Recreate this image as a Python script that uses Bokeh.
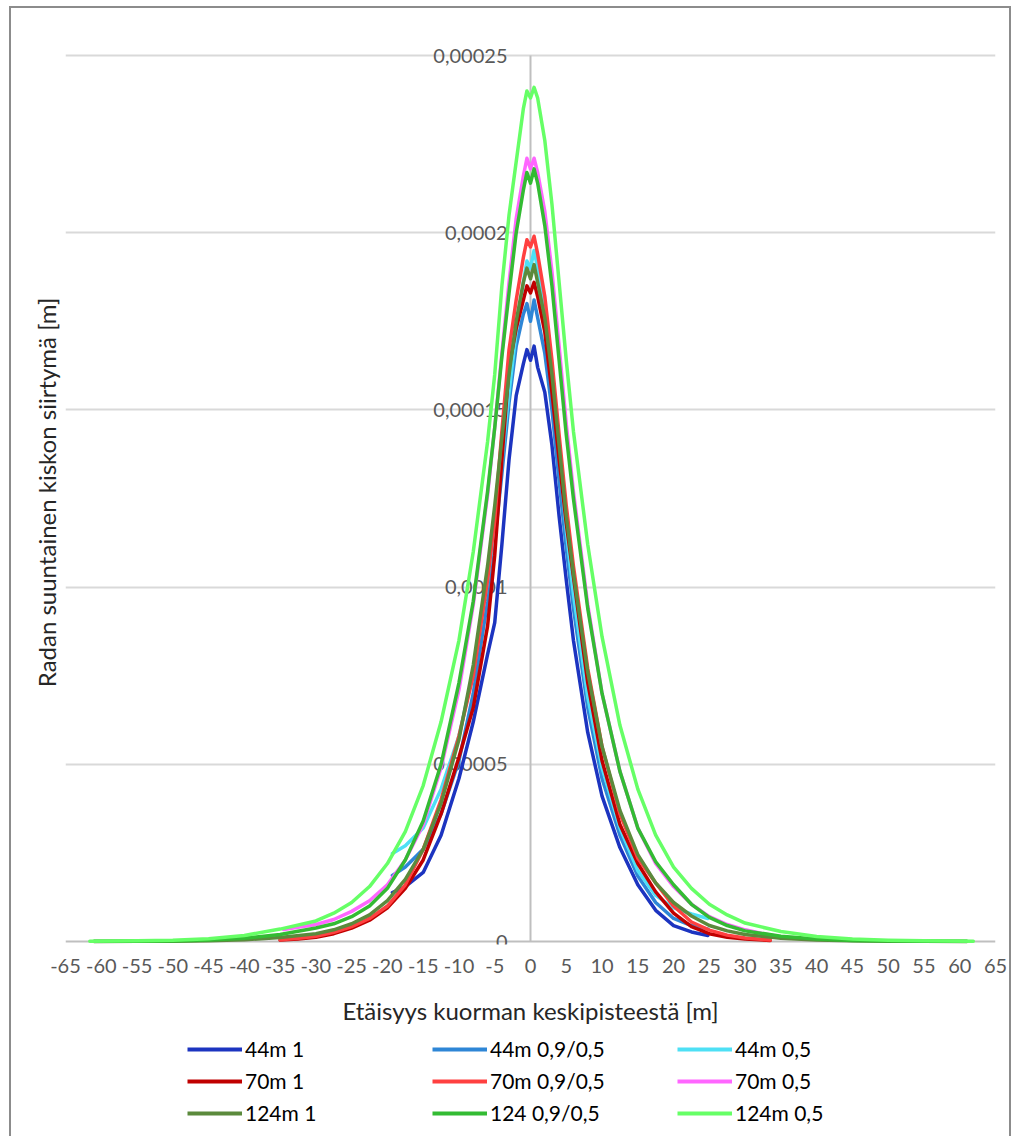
from bokeh.plotting import figure
from bokeh.models import FixedTicker, Legend, LegendItem, Range1d
from bokeh.layouts import column
from bokeh.core.properties import value
from bokeh.embed import file_html
from bokeh.resources import INLINE

# ---------------- data ----------------
x_44 = [-19.3, -17.5, -15, -12.5, -10, -8, -6, -5, -4, -3, -2, -1, -0.5, 0,
        0.5, 1, 2, 3, 4, 5, 6, 8, 10, 12.5, 15, 17.5, 20, 22.5, 24.8]
y_44m_1 = [1.38e-5, 1.55e-5, 1.95e-5, 3.0e-5, 4.6e-5, 6.2e-5, 8.1e-5, 9.0e-5, 11.2e-5, 13.6e-5,
           15.4e-5, 16.3e-5, 16.7e-5, 16.4e-5, 16.8e-5, 16.2e-5, 15.5e-5, 14.0e-5, 12.0e-5, 10.2e-5,
           8.5e-5, 5.9e-5, 4.1e-5, 2.65e-5, 1.6e-5, 0.88e-5, 0.45e-5, 0.27e-5, 0.17e-5]
y_44m_09 = [1.86e-5, 2.1e-5, 2.6e-5, 3.6e-5, 5.1e-5, 7.0e-5, 9.6e-5, 11.3e-5, 13.2e-5, 15.2e-5,
            16.8e-5, 17.7e-5, 18.0e-5, 17.5e-5, 18.1e-5, 17.6e-5, 16.6e-5, 15.0e-5, 13.0e-5, 11.1e-5,
            9.4e-5, 6.6e-5, 4.6e-5, 3.0e-5, 1.85e-5, 1.1e-5, 0.65e-5, 0.45e-5, 0.35e-5]
y_44m_05 = [2.48e-5, 2.7e-5, 3.2e-5, 4.3e-5, 5.8e-5, 7.6e-5, 10.2e-5, 11.8e-5, 13.6e-5, 15.5e-5,
            17.2e-5, 18.6e-5, 19.2e-5, 19.0e-5, 19.5e-5, 19.0e-5, 17.8e-5, 16.0e-5, 13.8e-5, 11.6e-5,
            9.8e-5, 6.9e-5, 4.9e-5, 3.2e-5, 2.0e-5, 1.3e-5, 0.95e-5, 0.78e-5, 0.65e-5]

x_70 = [-35, -32.5, -30, -27.5, -25, -22.5, -20, -17.5, -15, -12.5, -10, -8, -6, -5, -4, -3, -2, -1,
        -0.5, 0, 0.5, 1, 2, 3, 4, 5, 6, 8, 10, 12.5, 15, 17.5, 20, 22.5, 25, 27.5, 30, 33.5]
y_70m_1 = [0.04e-5, 0.07e-5, 0.12e-5, 0.22e-5, 0.38e-5, 0.6e-5, 0.95e-5, 1.5e-5, 2.3e-5, 3.6e-5,
           5.2e-5, 6.6e-5, 8.9e-5, 10.9e-5, 13.6e-5, 16.2e-5, 17.3e-5, 18.1e-5, 18.5e-5, 18.3e-5,
           18.6e-5, 18.2e-5, 17.2e-5, 15.5e-5, 13.6e-5, 11.8e-5, 10.3e-5, 7.3e-5, 5.1e-5, 3.3e-5,
           2.2e-5, 1.4e-5, 0.8e-5, 0.42e-5, 0.22e-5, 0.12e-5, 0.07e-5, 0.03e-5]
y_70m_09 = [0.05e-5, 0.09e-5, 0.15e-5, 0.26e-5, 0.42e-5, 0.65e-5, 1.0e-5, 1.6e-5, 2.6e-5, 4.0e-5,
            5.8e-5, 7.5e-5, 10.2e-5, 11.9e-5, 14.4e-5, 16.7e-5, 18.1e-5, 19.3e-5, 19.8e-5, 19.6e-5,
            19.9e-5, 19.4e-5, 18.2e-5, 16.4e-5, 14.3e-5, 12.3e-5, 10.6e-5, 7.7e-5, 5.5e-5, 3.6e-5,
            2.35e-5, 1.65e-5, 1.0e-5, 0.55e-5, 0.32e-5, 0.18e-5, 0.1e-5, 0.04e-5]
x_70b = [-34.5, -32.5, -30, -27.5, -25, -22.5, -20, -17.5, -15, -12.5, -10, -8, -6, -5, -4, -3, -2, -1,
         -0.5, 0, 0.5, 1, 2, 3, 4, 5, 6, 8, 10, 12.5, 15, 17.5, 20, 22.5, 25, 27.5, 30, 32.5, 34.5]
y_70m_05 = [0.34e-5, 0.4e-5, 0.48e-5, 0.62e-5, 0.85e-5, 1.15e-5, 1.6e-5, 2.3e-5, 3.3e-5, 4.9e-5,
            7.1e-5, 9.5e-5, 12.6e-5, 14.5e-5, 16.6e-5, 18.6e-5, 20.4e-5, 21.6e-5, 22.1e-5, 21.8e-5,
            22.1e-5, 21.7e-5, 20.6e-5, 18.9e-5, 16.8e-5, 14.6e-5, 12.7e-5, 9.5e-5, 7.0e-5, 4.8e-5,
            3.2e-5, 2.2e-5, 1.55e-5, 1.05e-5, 0.7e-5, 0.48e-5, 0.33e-5, 0.22e-5, 0.15e-5]

x_124 = [-61, -55, -50, -45, -40, -35, -30, -27.5, -25, -22.5, -20, -17.5, -15, -12.5, -10, -8, -6,
         -5, -4, -3, -2, -1, -0.5, 0, 0.5, 1, 2, 3, 4, 5, 6, 8, 10, 12.5, 15, 17.5, 20, 22.5, 25,
         27.5, 30, 35, 40, 45, 50, 55, 61]
y_124m_1 = [0.003e-5, 0.005e-5, 0.01e-5, 0.02e-5, 0.05e-5, 0.11e-5, 0.22e-5, 0.33e-5, 0.5e-5, 0.75e-5,
            1.15e-5, 1.75e-5, 2.6e-5, 3.9e-5, 5.7e-5, 7.8e-5, 10.6e-5, 12.3e-5, 14.2e-5, 16.0e-5,
            17.5e-5, 18.6e-5, 19.0e-5, 18.7e-5, 19.1e-5, 18.6e-5, 17.6e-5, 16.0e-5, 14.0e-5, 12.0e-5,
            10.4e-5, 7.6e-5, 5.5e-5, 3.7e-5, 2.45e-5, 1.65e-5, 1.1e-5, 0.72e-5, 0.45e-5, 0.3e-5,
            0.2e-5, 0.09e-5, 0.04e-5, 0.02e-5, 0.01e-5, 0.005e-5, 0.003e-5]
y_124_09 = [0.004e-5, 0.008e-5, 0.015e-5, 0.04e-5, 0.09e-5, 0.2e-5, 0.38e-5, 0.5e-5, 0.7e-5, 1.0e-5,
            1.5e-5, 2.3e-5, 3.4e-5, 5.0e-5, 7.3e-5, 9.6e-5, 12.7e-5, 14.5e-5, 16.5e-5, 18.3e-5,
            20.0e-5, 21.2e-5, 21.7e-5, 21.4e-5, 21.8e-5, 21.4e-5, 20.2e-5, 18.5e-5, 16.4e-5, 14.3e-5,
            12.5e-5, 9.4e-5, 7.0e-5, 4.8e-5, 3.2e-5, 2.25e-5, 1.6e-5, 1.05e-5, 0.68e-5, 0.45e-5,
            0.3e-5, 0.15e-5, 0.07e-5, 0.03e-5, 0.015e-5, 0.008e-5, 0.004e-5]
x_124b = [-61.6, -55, -50, -45, -40, -35, -30, -27.5, -25, -22.5, -20, -17.5, -15, -12.5, -10, -8, -6,
          -5, -4, -3, -2, -1, -0.5, 0, 0.5, 1, 2, 3, 4, 5, 6, 8, 10, 12.5, 15, 17.5, 20, 22.5, 25,
          27.5, 30, 35, 40, 45, 50, 55, 61.9]
y_124m_05 = [0.01e-5, 0.02e-5, 0.035e-5, 0.08e-5, 0.17e-5, 0.35e-5, 0.58e-5, 0.8e-5, 1.1e-5, 1.55e-5,
             2.2e-5, 3.1e-5, 4.4e-5, 6.2e-5, 8.5e-5, 11.0e-5, 14.1e-5, 16.0e-5, 18.5e-5, 20.5e-5,
             22.0e-5, 23.5e-5, 24.0e-5, 23.8e-5, 24.1e-5, 23.8e-5, 22.6e-5, 20.8e-5, 18.6e-5, 16.4e-5,
             14.4e-5, 11.2e-5, 8.6e-5, 6.1e-5, 4.3e-5, 3.0e-5, 2.1e-5, 1.5e-5, 1.05e-5, 0.75e-5,
             0.52e-5, 0.28e-5, 0.14e-5, 0.07e-5, 0.035e-5, 0.02e-5, 0.01e-5]

series_labels = ["44m 1", "44m 0,9/0,5", "44m 0,5",
                 "70m 1", "70m 0,9/0,5", "70m 0,5",
                 "124m 1", "124 0,9/0,5", "124m 0,5"]
series_x = [x_44, x_44, x_44, x_70, x_70, x_70b, x_124, x_124, x_124b]
series_y = [y_44m_1, y_44m_09, y_44m_05, y_70m_1, y_70m_09, y_70m_05, y_124m_1, y_124_09, y_124m_05]
series_colors = ["#1c34c0", "#2e86d6", "#4ee0f5",
                 "#c00000", "#ff4040", "#ff66ff",
                 "#5b8a3c", "#33bb33", "#66ff66"]

x_ticks = list(range(-65, 66, 5))
y_ticks = [0, 0.00005, 0.0001, 0.00015, 0.0002, 0.00025]
y_tick_labels = ["0", "0,00005", "0,0001", "0,00015", "0,0002", "0,00025"]

# ---------------- main figure ----------------
PX_PER_UNIT = 3.544e6
Y_TOP = 901 / PX_PER_UNIT
Y_BOT = -3 / PX_PER_UNIT

FONT = "Lato"
BORDER = "2px solid #8c8c8c"

p = figure(width=1002, height=1028, x_range=(-65, 65), y_range=(Y_BOT, Y_TOP),
           output_backend="svg", toolbar_location=None,
           min_border_left=54, min_border_right=18, min_border_top=32, min_border_bottom=92)
p.outline_line_color = None
p.background_fill_color = "white"
p.border_fill_color = "white"

# x axis
p.xaxis.ticker = FixedTicker(ticks=x_ticks)
p.xaxis.major_label_overrides = {t: str(t) for t in x_ticks}
p.xaxis.axis_line_color = None
p.xaxis.major_tick_line_color = None
p.xaxis.minor_tick_line_color = None
p.xaxis.major_tick_out = 0
p.xaxis.major_label_standoff = 14
p.xaxis.major_label_text_font = FONT
p.xaxis.major_label_text_font_size = "20px"
p.xaxis.major_label_text_color = "#595959"
p.xaxis.axis_label = "Etäisyys kuorman keskipisteestä [m]"
p.xaxis.axis_label_text_font = FONT
p.xaxis.axis_label_text_font_size = "24px"
p.xaxis.axis_label_text_font_style = "normal"
p.xaxis.axis_label_text_color = "#262626"
p.xaxis.axis_label_standoff = 20

# y axis (title only; tick labels drawn at x = 0 like the reference)
p.yaxis.ticker = FixedTicker(ticks=[])
p.yaxis.axis_line_color = None
p.yaxis.major_tick_line_color = None
p.yaxis.minor_tick_line_color = None
p.yaxis.major_tick_out = 0
p.yaxis.major_label_standoff = 0
p.yaxis.axis_label = "Radan suuntainen kiskon siirtymä [m]"
p.yaxis.axis_label_text_font = FONT
p.yaxis.axis_label_text_font_size = "24px"
p.yaxis.axis_label_text_font_style = "normal"
p.yaxis.axis_label_text_color = "#262626"
p.yaxis.axis_label_standoff = 5

p.xgrid.visible = False
p.ygrid.ticker = FixedTicker(ticks=y_ticks[1:])
p.ygrid.grid_line_color = "#d9d9d9"
p.ygrid.grid_line_width = 2

# axis lines
p.segment(x0=[-65], y0=[0], x1=[65], y1=[0], line_color="#bfbfbf", line_width=2)
p.segment(x0=[0], y0=[0], x1=[0], y1=[y_ticks[-1]], line_color="#bfbfbf", line_width=2)

# y tick labels next to the vertical axis
p.text(x=[0] * len(y_ticks), y=y_ticks, text=y_tick_labels, x_offset=-23,
       text_align="right", text_baseline="middle", text_font=value(FONT),
       text_font_size="20px", text_color="#595959")

for xs, ys, c in zip(series_x, series_y, series_colors):
    p.line(xs, ys, line_color=c, line_width=3.5, line_join="round", line_cap="round")

p.styles = {"border-left": BORDER, "border-top": BORDER, "border-right": BORDER}

# ---------------- legend strip ----------------
leg = figure(width=1002, height=102, x_range=Range1d(0, 1), y_range=Range1d(0, 1),
             output_backend="svg", toolbar_location=None,
             min_border_left=0, min_border_right=0, min_border_top=0, min_border_bottom=0)
leg.axis.visible = False
leg.grid.visible = False
leg.outline_line_color = None
leg.background_fill_color = "white"
leg.border_fill_color = "white"
leg.styles = {"border-left": BORDER, "border-right": BORDER}

# legend keys: lines kept outside the strip's visible range, only their legend glyphs show
leg_renderers = [leg.line([5, 6], [5, 6], line_color=c, line_width=4) for c in series_colors]
items = [LegendItem(label=lab, renderers=[r]) for lab, r in zip(series_labels, leg_renderers)]
legend = Legend(items=items, ncols=3, orientation="horizontal", location=(122, 11),
                glyph_width=55, glyph_height=20, label_standoff=3, label_width=180,
                spacing=7, padding=0, margin=0, border_line_color=None,
                background_fill_alpha=0, label_text_font=FONT, label_text_font_size="21px",
                label_text_color="#000000")
leg.add_layout(legend, "center")

layout = column(p, leg, spacing=0, margin=(6, 0, 0, 9))

open("out.html", "w").write(file_html(layout, INLINE))
